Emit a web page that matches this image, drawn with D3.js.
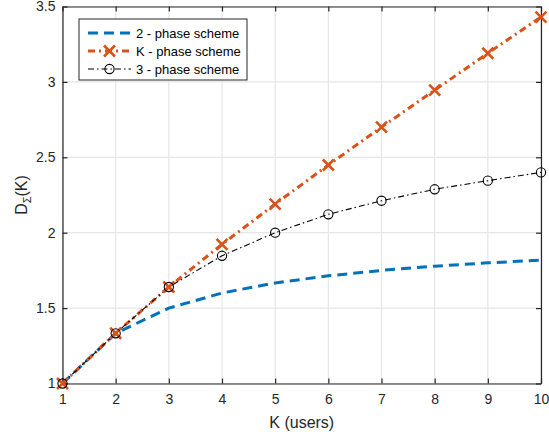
<!DOCTYPE html>
<html><head><meta charset="utf-8">
<script src="https://cdn.jsdelivr.net/npm/d3@7"></script>
<style>body{margin:0;background:#fff}svg{display:block}text{font-family:"Liberation Sans",Arial,sans-serif}</style>
</head><body>
<svg id="c" width="549" height="439"></svg>
<script>
const K = [1,2,3,4,5,6,7,8,9,10];
const twoPhase = [1,1.333,1.5,1.6,1.667,1.714,1.75,1.778,1.8,1.818];
const kPhase = [1,1.333,1.64,1.923,2.19,2.449,2.70,2.945,3.19,3.43];
const threePhase = [1,1.333,1.64,1.847,2.0,2.122,2.212,2.288,2.345,2.40];
const xTicks = [1,2,3,4,5,6,7,8,9,10];
const yTicks = [1,1.5,2,2.5,3,3.5];
const yTickLabels = ["1","1.5","2","2.5","3","3.5"];
const legendLabels = ["2 - phase scheme","K - phase scheme","3 - phase scheme"];

const svg = d3.select("#c");
const L=62.5, R=541, T=6.5, B=383.5;
const x = d3.scaleLinear().domain([1,10]).range([L,R]);
const y = d3.scaleLinear().domain([1,3.5]).range([B,T]);
const axisCol="#262626";

// grid
svg.append("g").selectAll("line").data(xTicks).join("line")
  .attr("x1",d=>x(d)).attr("x2",d=>x(d)).attr("y1",T).attr("y2",B)
  .attr("stroke","#e6e6e6").attr("stroke-width",1.2);
svg.append("g").selectAll("line").data(yTicks).join("line")
  .attr("y1",d=>y(d)).attr("y2",d=>y(d)).attr("x1",L).attr("x2",R)
  .attr("stroke","#e6e6e6").attr("stroke-width",1.2);

// axes
const xa = svg.append("g").attr("transform",`translate(0,${B})`)
  .call(d3.axisBottom(x).tickValues(xTicks).tickSizeInner(-5).tickSizeOuter(0).tickPadding(11));
const xt = svg.append("g").attr("transform",`translate(0,${T})`)
  .call(d3.axisTop(x).tickValues(xTicks).tickSizeInner(-5).tickSizeOuter(0).tickFormat(""));
const ya = svg.append("g").attr("transform",`translate(${L},0)`)
  .call(d3.axisLeft(y).tickValues(yTicks).tickSizeInner(-5).tickSizeOuter(0).tickPadding(7)
  .tickFormat((d,i)=>yTickLabels[i]));
const yr = svg.append("g").attr("transform",`translate(${R},0)`)
  .call(d3.axisRight(y).tickValues(yTicks).tickSizeInner(-5).tickSizeOuter(0).tickFormat(""));
[xa,xt,ya,yr].forEach(g=>{
  g.select(".domain").attr("stroke",axisCol).attr("stroke-width",1.2);
  g.selectAll(".tick line").attr("stroke",axisCol).attr("stroke-width",1.2);
  g.selectAll(".tick text").attr("fill",axisCol).style("font-size","14px")
    .style("font-family",'"Liberation Sans",Arial,sans-serif');
});

// axis labels
svg.append("text").attr("x",(L+R)/2).attr("y",428).attr("text-anchor","middle")
  .attr("fill",axisCol).style("font-size","16px").text("K (users)");
const yl = svg.append("text").attr("transform",`translate(27,${(T+B)/2}) rotate(-90)`)
  .attr("text-anchor","middle").attr("fill",axisCol).style("font-size","16px");
yl.append("tspan").text("D");
yl.append("tspan").attr("dy",4).style("font-size","11px").text("Σ");
yl.append("tspan").attr("dy",-4).text("(K)");

const line = d3.line().x((d,i)=>x(K[i])).y(d=>y(d));
const blue="#0072BD", orange="#D95319";

svg.append("path").datum(twoPhase).attr("d",line).attr("fill","none")
  .attr("stroke",blue).attr("stroke-width",3).attr("stroke-dasharray","10,6");
svg.append("path").datum(kPhase).attr("d",line).attr("fill","none")
  .attr("stroke",orange).attr("stroke-width",3).attr("stroke-dasharray","7,4,2,4");
svg.append("path").datum(threePhase).attr("d",line).attr("fill","none")
  .attr("stroke","#000").attr("stroke-width",1.1).attr("stroke-dasharray","6,3,1.5,3");

function xMark(g,cx,cy,s){
  g.append("path").attr("d",`M${cx-s},${cy-s}L${cx+s},${cy+s}M${cx-s},${cy+s}L${cx+s},${cy-s}`)
   .attr("stroke",orange).attr("stroke-width",2.6).attr("fill","none");
}
const mk = svg.append("g");
kPhase.forEach((v,i)=>xMark(mk,x(K[i]),y(v),5.5));
svg.append("g").selectAll("circle").data(threePhase).join("circle")
  .attr("cx",(d,i)=>x(K[i])).attr("cy",d=>y(d)).attr("r",4.6)
  .attr("fill","none").attr("stroke","#000").attr("stroke-width",1.1);

// legend
const lg = svg.append("g");
lg.append("rect").attr("x",79).attr("y",19).attr("width",168).attr("height",61)
  .attr("fill","#fff").attr("stroke",axisCol).attr("stroke-width",1);
const ly=[33,51,69], lx1=88, lx2=131;
lg.append("line").attr("x1",lx1).attr("x2",lx2).attr("y1",ly[0]).attr("y2",ly[0])
  .attr("stroke",blue).attr("stroke-width",3).attr("stroke-dasharray","10,6");
lg.append("line").attr("x1",lx1).attr("x2",lx2).attr("y1",ly[1]).attr("y2",ly[1])
  .attr("stroke",orange).attr("stroke-width",3).attr("stroke-dasharray","7,4,2,4");
xMark(lg,(lx1+lx2)/2,ly[1],5.5);
lg.append("line").attr("x1",lx1).attr("x2",lx2).attr("y1",ly[2]).attr("y2",ly[2])
  .attr("stroke","#000").attr("stroke-width",1.1).attr("stroke-dasharray","6,3,1.5,3");
lg.append("circle").attr("cx",(lx1+lx2)/2).attr("cy",ly[2]).attr("r",4.6)
  .attr("fill","none").attr("stroke","#000").attr("stroke-width",1.1);
lg.selectAll("text.l").data(legendLabels).join("text").attr("class","l")
  .attr("x",136).attr("y",(d,i)=>ly[i]+4.5).attr("fill","#000").style("font-size","13px").text(d=>d);
</script>
</body></html>
